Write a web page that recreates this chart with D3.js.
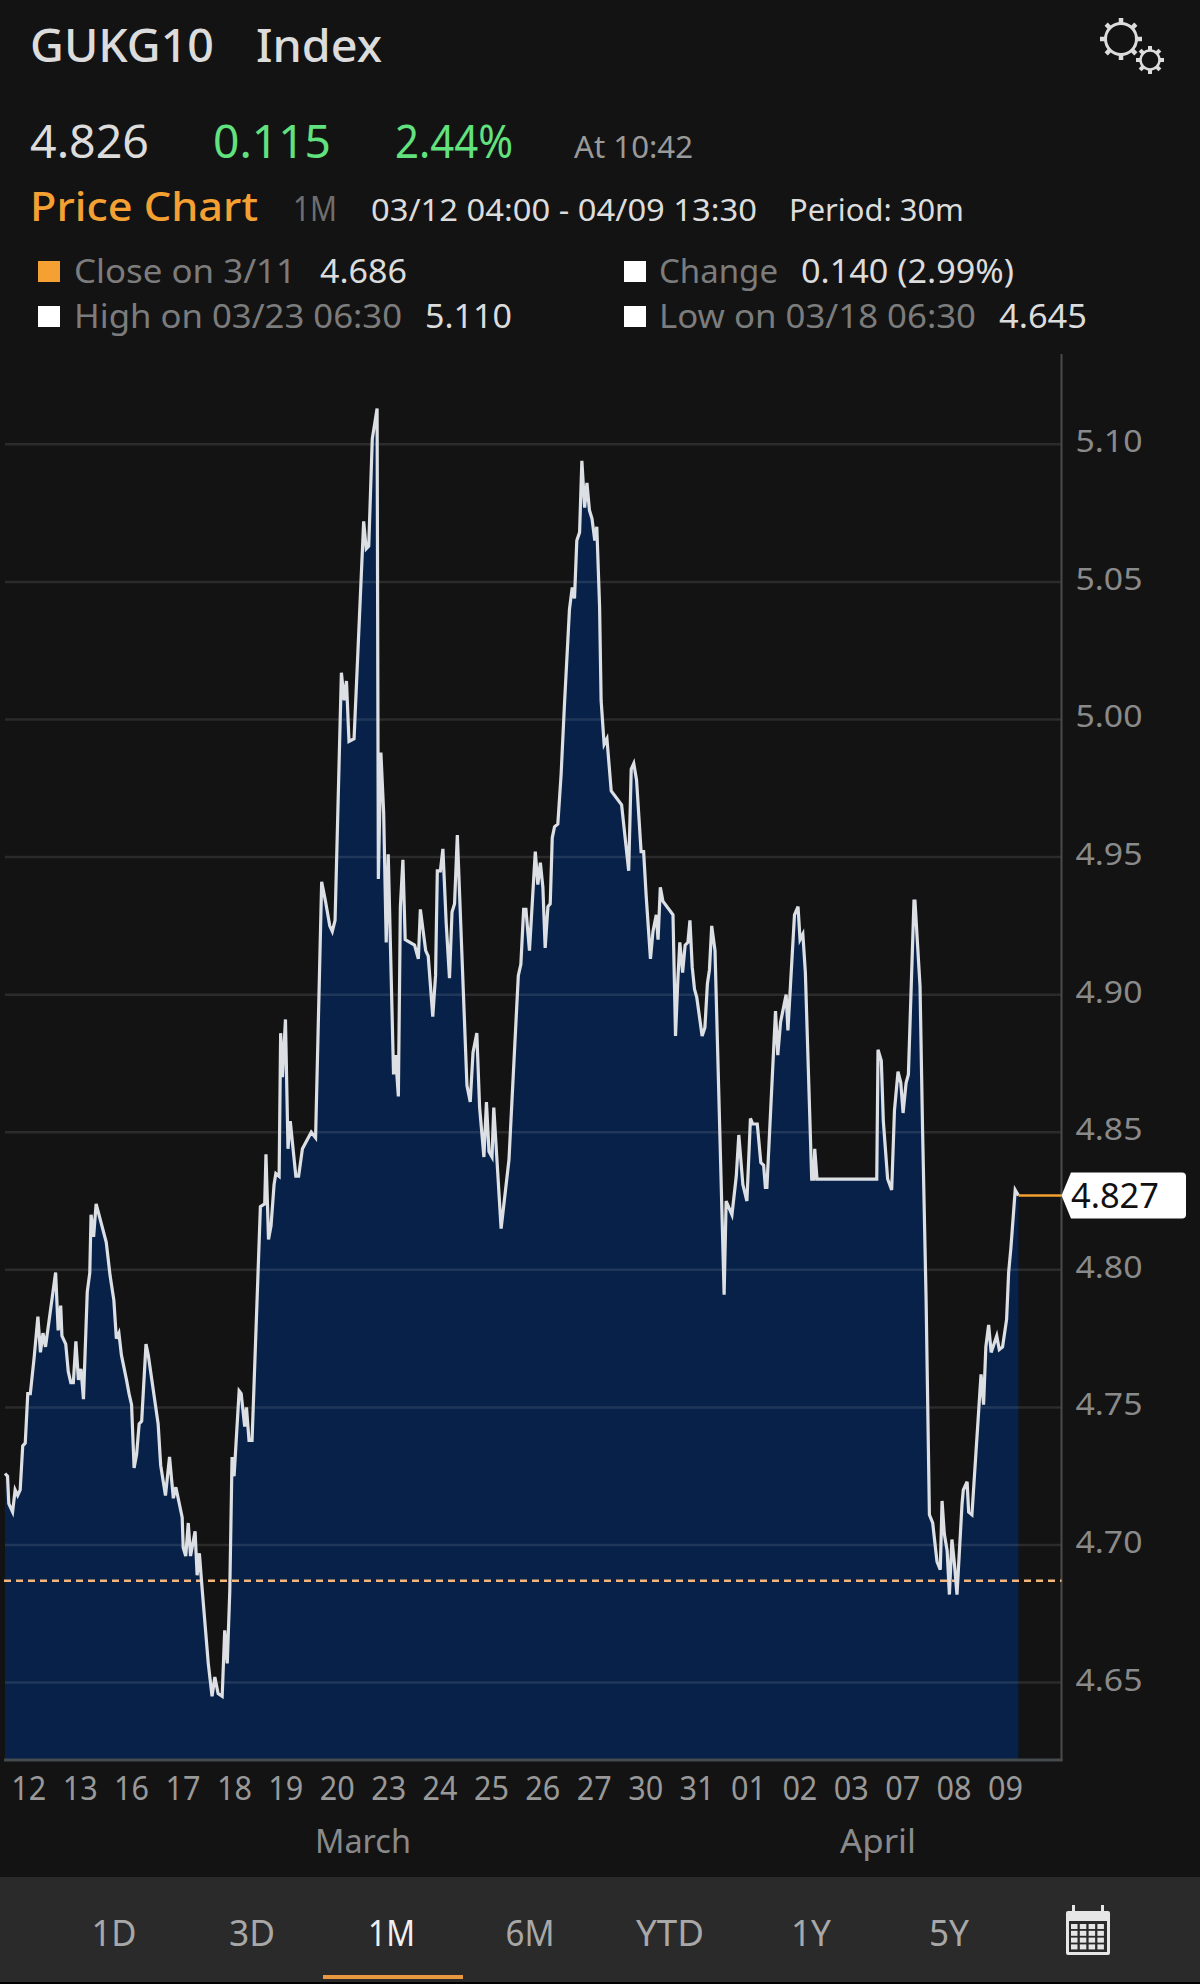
<!DOCTYPE html>
<html>
<head>
<meta charset="utf-8">
<script src="https://cdn.jsdelivr.net/npm/d3@7"></script>
<style>
  html, body { margin: 0; padding: 0; background: #131313; }
  svg { display: block; }
  text { font-family: "Noto Sans", sans-serif; }
</style>
</head>
<body>
<script>
// 30 minute bars, 20 bars to a session
const barPos = [
  0,1,1.5,3,4,5,6,7,8,9,10,11.5,13,14,15,16,20,21,22,22.5,24,25,26,27,28,29,30,31,32.5,33.5,34,35,36,40,41.5,43,44,45,46,48,49,50,51,52,53,54,55.7,56.6,
  60.5,61.5,63.4,65,66.5,67.5,70,70.4,71.4,72.4,73.3,75.1,75.9,76.8,77.8,80.3,81.8,82.9,84.2,85.8,86.8,87.8,88.8,89.7,90.5,92.5,93.3,94.7,95.4,96.4,97.6,
  100.9,102.6,103.1,104.1,105.1,106.3,107,108.3,108.9,109.6,110.8,111.8,112.7,114.9,116,117.5,121,122.7,125.1,126.6,128.3,129.3,130.4,
  132.9,134,134.9,135.9,137.9,141.7,142.7,143.7,145.1,147,147.5,148.5,149.6,150.6,151.4,153.5,154.3,155.4,156.2,157.2,158.1,161.8,163.3,164.1,166.2,167.2,169,170.1,170.8,172,173,174.3,175.6,176.6,177.6,178.7,
  182.5,183.8,184.9,186.4,187.5,189.2,190.2,191.2,192.4,193.1,196,199.1,202.8,203.8,204.9,205.8,207.2,209.5,210.5,211.5,212.5,213.4,214.5,215.4,216.2,217.1,218.4,219.7,221,223,224.1,225,225.9,227,227.9,229,229.9,230.9,231.9,233,233.8,234.9,235.5,236.7,237.8,239.5,243.6,246.4,247.4,248.4,249.5,251.3,252.3,253.3,255,256,257.3,258,258.9,259.9,263.9,
  264.9,265.8,266.6,267.7,268.7,269.8,270.6,271.5,272.4,273.3,275.4,276.5,277.5,278.3,279.2,280.5,284.1,284.9,287.2,288.9,289.9,291.5,293.1,294.5,295.4,297.2,298.6,299.7,300.4,301,304.4,305.3,306.4,308.6,309.3,311.9,313.3,314.1,315.2,316.2,317.2,318.7,319.5,319.9,320.8,344.4,344.9,346.2,347,348.7,350.3,351.4,352.8,353.9,354.8,356,356.9,359.1,359.5,361.5,362.5,363.9,365.2,366.5,368.2,369.5,370.2,371.1,372.2,373.1,374.1,375.1,376.1,378.1,378.6,380.1,380.7,382,385.6,386.6,387.5,388.6,389.6,391.8,392.8,394.1,395.7,396.5,397.4,399.1,400.4
];
const yieldVals = [
  4.726,4.725,4.715,4.712,4.720,4.718,4.720,4.736,4.737,4.755,4.755,4.768,4.783,4.770,4.777,4.772,4.799,4.778,4.787,4.776,4.773,4.763,4.759,4.759,4.774,4.760,4.764,4.753,4.792,4.799,4.820,4.812,4.824,4.810,4.798,4.789,4.775,4.777,4.769,4.760,4.755,4.751,4.728,4.733,4.744,4.745,4.773,4.769,
  4.744,4.729,4.718,4.732,4.717,4.721,4.710,4.699,4.696,4.708,4.696,4.705,4.689,4.697,4.685,4.657,4.645,4.652,4.646,4.645,4.669,4.657,4.683,4.732,4.725,4.756,4.755,4.743,4.750,4.738,4.738,
  4.823,4.824,4.842,4.811,4.816,4.831,4.835,4.834,4.886,4.870,4.891,4.844,4.854,4.834,4.834,4.844,4.850,4.848,4.941,4.934,4.925,4.923,4.927,
  5.017,5.007,5.014,4.992,4.993,5.072,5.062,5.063,5.102,5.113,4.942,4.988,4.966,4.919,4.951,4.871,4.878,4.863,4.932,4.949,4.920,4.918,4.913,4.931,4.916,4.914,4.892,4.907,4.945,4.945,4.953,4.926,4.906,4.930,4.933,4.958,
  4.867,4.861,4.879,4.886,4.859,4.841,4.861,4.843,4.841,4.859,4.815,4.840,4.907,4.911,4.931,4.931,4.916,4.952,4.940,4.948,4.939,4.917,4.932,4.933,4.957,4.961,4.962,4.980,5.005,5.040,5.048,5.044,5.065,5.068,5.094,5.077,5.086,5.076,5.073,5.065,5.070,5.041,5.007,4.991,4.993,4.974,4.969,4.945,4.982,4.984,4.978,4.952,4.952,4.936,4.913,4.923,4.929,4.920,4.939,4.934,4.929,
  4.885,4.905,4.919,4.908,4.918,4.919,4.927,4.910,4.902,4.899,4.885,4.888,4.904,4.909,4.925,4.916,4.791,4.825,4.820,4.834,4.849,4.831,4.825,4.855,4.853,4.853,4.839,4.838,4.830,4.830,4.894,4.878,4.890,4.900,4.887,4.929,4.932,4.920,4.922,4.908,4.878,4.833,4.833,4.844,4.833,4.833,4.880,4.876,4.854,4.833,4.829,4.858,4.872,4.868,4.857,4.868,4.871,4.934,4.934,4.903,4.851,4.789,4.711,4.708,4.694,4.691,4.716,4.704,4.698,4.682,4.702,4.693,4.682,4.715,4.720,4.723,4.712,4.711,4.762,4.751,4.772,4.780,4.770,4.776,4.771,4.772,4.782,4.799,4.808,4.829,4.827
];
const dayLabels = ["12","13","16","17","18","19","20","23","24","25","26","27","30","31","01","02","03","07","08","09"];
const yTicks = [4.65,4.70,4.75,4.80,4.85,4.90,4.95,5.00,5.05,5.10];
const priorClose = 4.687;
const lastPrice = 4.827;
const periodTabs = ["1D","3D","1M","6M","YTD","1Y","5Y"];

const width = 1200,
      height = 1984,
      plotLeft = 5,
      plotRight = 1061.5,
      plotTop = 354,
      plotBottom = 1760;

const orange = "#f5a033", green = "#62e27e", soft = "#dcdcdc", grey = "#7c7c7c";

let svg = d3.select("body").append("svg")
    .attr("width", width)
    .attr("height", height)
    .attr("viewBox", "0 0 " + width + " " + height);

// text squeezed to the width it has in the screenshot
function label(str, x, y, size, w, color, weight) {
    return svg.append("text")
        .attr("x", x)
        .attr("y", y)
        .attr("font-size", size)
        .attr("font-weight", weight || 400)
        .attr("fill", color)
        .attr("textLength", w)
        .attr("lengthAdjust", "spacingAndGlyphs")
        .text(str);
}

function gear(cx, cy, ring, outer, sw) {
    let g = svg.append("g").attr("fill", "none").attr("stroke", soft);
    g.append("circle").attr("cx", cx).attr("cy", cy).attr("r", ring).attr("stroke-width", sw);
    d3.range(8).forEach(function (i) {
        let a = i * Math.PI / 4;
        g.append("line")
            .attr("x1", cx + ring * Math.cos(a))
            .attr("y1", cy + ring * Math.sin(a))
            .attr("x2", cx + outer * Math.cos(a))
            .attr("y2", cy + outer * Math.sin(a))
            .attr("stroke-width", sw + 1.5);
    });
}

function createHeader() {
    label("GUKG10", 30, 62, 46, 184, soft, 500);
    label("Index", 256, 62, 46, 126, soft, 500);

    label("4.826", 30, 158, 46, 119, soft);
    label("0.115", 213, 158, 46, 118, green);
    label("2.44%", 395, 158, 46, 118, green);
    label("At 10:42", 574, 158, 31, 119, "#9a9a9a");

    label("Price Chart", 30, 221, 39, 228, orange, 500);
    label("1M", 293, 221, 34, 44, "#6e6e6e");
    label("03/12 04:00 - 04/09 13:30", 371, 221, 30, 386, soft);
    label("Period: 30m", 789, 221, 30, 175, soft);

    svg.append("rect").attr("x", 38).attr("y", 261).attr("width", 22).attr("height", 21).attr("fill", orange);
    svg.append("rect").attr("x", 624).attr("y", 261).attr("width", 22).attr("height", 21).attr("fill", "#fff");
    svg.append("rect").attr("x", 38).attr("y", 306).attr("width", 22).attr("height", 21).attr("fill", "#fff");
    svg.append("rect").attr("x", 624).attr("y", 306).attr("width", 22).attr("height", 21).attr("fill", "#fff");

    label("Close on 3/11", 74, 283, 32, 222, grey);
    label("4.686", 320, 283, 32, 87, soft);
    label("Change", 659, 283, 32, 119, grey);
    label("0.140 (2.99%)", 801, 283, 32, 213, soft);
    label("High on 03/23 06:30", 74, 328, 32, 328, grey);
    label("5.110", 425, 328, 32, 87, soft);
    label("Low on 03/18 06:30", 659, 328, 32, 317, grey);
    label("4.645", 999, 328, 32, 88, soft);

    gear(1121, 39, 15.5, 21, 3);
    gear(1150, 60, 9.5, 14, 2.5);
}

function createChart() {
    let points = barPos.map(function (b, i) { return {b: b, v: yieldVals[i]}; });

    let x = d3.scaleLinear().domain([0, 400.4]).range([plotLeft, 1018.5]);
    let y = d3.scaleLinear().domain([4.65, 5.10]).range([1682.6, 444.3]);
    let dayScale = d3.scalePoint().domain(dayLabels).range([28.3, 1005]);

    let area = d3.area()
        .x(function (d) { return x(d.b); })
        .y0(plotBottom)
        .y1(function (d) { return y(d.v); });

    let line = d3.line()
        .x(function (d) { return x(d.b); })
        .y(function (d) { return y(d.v); });

    svg.append("path")
        .attr("class", "area")
        .attr("d", area(points))
        .attr("fill", "#072148");

    // gridlines and labels of the price axis
    let yAxis = d3.axisRight(y)
        .tickValues(yTicks)
        .tickFormat(d3.format(".2f"))
        .tickSize(0)
        .tickPadding(14);

    let yAxisG = svg.append("g")
        .attr("class", "y axis")
        .attr("transform", "translate(" + plotRight + ",0)")
        .call(yAxis);
    yAxisG.select(".domain").remove();
    yAxisG.selectAll("text")
        .attr("font-size", 31)
        .attr("font-family", "Noto Sans")
        .attr("fill", "#8a8a8a")
        .attr("dy", "0.24em")
        .attr("textLength", 67)
        .attr("lengthAdjust", "spacingAndGlyphs");

    svg.append("g").attr("class", "grid")
        .selectAll("line")
        .data(yTicks)
        .enter()
        .append("line")
        .attr("x1", plotLeft)
        .attr("x2", plotRight)
        .attr("y1", function (d) { return y(d); })
        .attr("y2", function (d) { return y(d); })
        .attr("stroke", "rgba(255,255,255,0.1)")
        .attr("stroke-width", 2.5);

    svg.append("line")
        .attr("x1", plotRight).attr("x2", plotRight)
        .attr("y1", plotTop).attr("y2", plotBottom + 1)
        .attr("stroke", "#4a4a4a").attr("stroke-width", 2);
    svg.append("line")
        .attr("x1", 4).attr("x2", plotRight + 1)
        .attr("y1", plotBottom).attr("y2", plotBottom)
        .attr("stroke", "#454a4c").attr("stroke-width", 3);

    svg.append("line")
        .attr("class", "prior-close")
        .attr("x1", 4).attr("x2", plotRight)
        .attr("y1", y(priorClose)).attr("y2", y(priorClose))
        .attr("stroke", "#f3b77c").attr("stroke-width", 2.5)
        .attr("stroke-dasharray", "7 5");

    svg.append("path")
        .attr("class", "line")
        .attr("d", line(points))
        .attr("fill", "none")
        .attr("stroke", "#dcdfe3")
        .attr("stroke-width", 3.2)
        .attr("stroke-linejoin", "miter");

    // last price tag
    let yLast = y(lastPrice);
    svg.append("line")
        .attr("x1", x(400.4)).attr("x2", plotRight)
        .attr("y1", yLast).attr("y2", yLast)
        .attr("stroke", orange).attr("stroke-width", 2.5);
    svg.append("path")
        .attr("d", "M" + plotRight + "," + yLast + "L1071," + (yLast - 23) + "H1182q4,0 4,4V" + (yLast + 19) + "q0,4 -4,4H1071Z")
        .attr("fill", "#fff");
    label(String(lastPrice), 1071, yLast + 12.5, 34, 88, "#111");

    // day labels
    let xAxis = d3.axisBottom(dayScale).tickSize(0).tickPadding(0);
    let xAxisG = svg.append("g")
        .attr("class", "x axis")
        .attr("transform", "translate(0,1800)")
        .call(xAxis);
    xAxisG.select(".domain").remove();
    xAxisG.selectAll("text")
        .attr("y", 0)
        .attr("dy", 0)
        .attr("font-size", 33)
        .attr("font-family", "Noto Sans")
        .attr("fill", "#999")
        .attr("textLength", 35)
        .attr("lengthAdjust", "spacingAndGlyphs");

    label("March", 315, 1853, 32, 96, "#8a8a8a");
    label("April", 840, 1853, 32, 76, "#8a8a8a");
}

function createFooter() {
    svg.append("rect").attr("x", 0).attr("y", 1877).attr("width", width).attr("height", 105).attr("fill", "#2a2a2a");
    svg.append("rect").attr("x", 0).attr("y", 1982).attr("width", width).attr("height", 2).attr("fill", "#000");
    svg.append("rect").attr("x", 323).attr("y", 1975).attr("width", 140).attr("height", 4).attr("fill", "#e8983f");

    let tabCentres = [114, 252, 391.5, 530, 670, 811, 949];
    let tabWidths = [45, 46, 47, 49, 68, 40, 40];
    periodTabs.forEach(function (t, i) {
        label(t, tabCentres[i] - tabWidths[i] / 2, 1946, 36, tabWidths[i], t === "1M" ? "#f0f0f0" : "#a8a8a8");
    });

    // calendar button
    let cal = svg.append("g").attr("fill", "#e6e6e6");
    cal.append("rect").attr("x", 1066).attr("y", 1911).attr("width", 44).attr("height", 44).attr("rx", 2);
    cal.append("rect").attr("x", 1072).attr("y", 1905).attr("width", 3).attr("height", 8);
    cal.append("rect").attr("x", 1101).attr("y", 1905).attr("width", 3).attr("height", 8);
    cal.append("rect").attr("x", 1069).attr("y", 1921).attr("width", 38).attr("height", 31).attr("fill", "#2a2a2a");
    d3.range(4).forEach(function (c) {
        d3.range(4).forEach(function (r) {
            cal.append("rect")
                .attr("x", 1071 + c * 8.8)
                .attr("y", 1924 + r * 6.8)
                .attr("width", 6.5)
                .attr("height", 5)
                .attr("fill", "#e6e6e6");
        });
    });
}

function init() {
    createHeader();
    createChart();
    createFooter();
}

window.onload = init;
</script>
</body>
</html>
